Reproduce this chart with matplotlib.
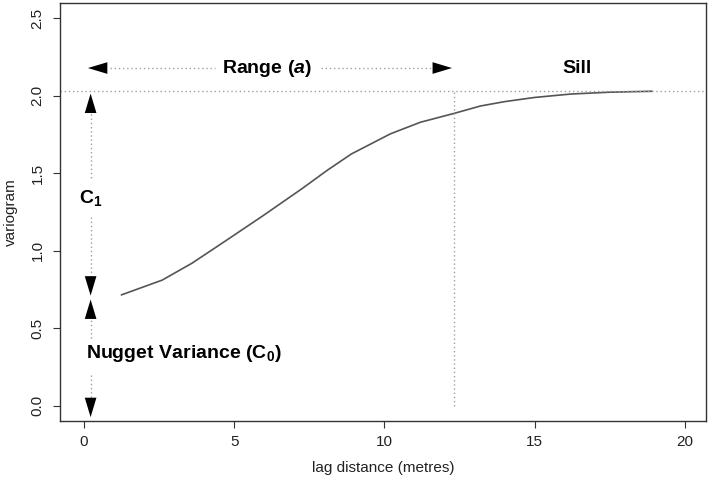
import matplotlib.pyplot as plt

plt.rcParams['font.family'] = ['Liberation Sans', 'DejaVu Sans']
plt.rcParams['mathtext.fontset'] = 'custom'
plt.rcParams['mathtext.rm'] = 'Liberation Sans:bold'
plt.rcParams['mathtext.it'] = 'Liberation Sans:italic:bold'
plt.rcParams['mathtext.default'] = 'rm'

# variogram curve
lag = [1.25, 2.6, 3.6, 4.8, 5.95, 7.25, 8.1, 8.9, 10.2, 11.2, 12.3, 13.2, 14.0, 15.0, 16.2, 17.5, 18.9]
gamma = [0.715, 0.81, 0.92, 1.075, 1.225, 1.40, 1.52, 1.625, 1.755, 1.83, 1.886, 1.935, 1.963, 1.99, 2.012, 2.024, 2.03]

sill = 2.03
range_a = 12.3
arrow_x = 0.22
range_y = 2.18

xticks = [0, 5, 10, 15, 20]
yticks = [0.0, 0.5, 1.0, 1.5, 2.0, 2.5]


def head(ax, tip, frm):
    # black filled arrow head only, the stem is drawn separately as a dotted line
    ax.annotate('', xy=tip, xytext=frm,
                arrowprops=dict(arrowstyle='-|>,head_length=1.4,head_width=0.42',
                                mutation_scale=10, lw=0, fc='black', ec='none',
                                shrinkA=0, shrinkB=0))


def dotted(ax, xs, ys):
    ax.plot(xs, ys, linestyle=(0, (1, 2)), color='#a0a0a0', lw=1)


fig = plt.figure(figsize=(7.08, 4.86), dpi=100)
ax = fig.add_axes([0.0847, 0.1337, 0.9123, 0.8601])

ax.plot(lag, gamma, color='#555555', lw=1.2)

# sill line and range line
ax.axhline(sill, linestyle=(0, (1, 2)), color='#a0a0a0', lw=1)
dotted(ax, [range_a, range_a], [0, sill])

# range arrow
dotted(ax, [0.85, 4.35], [range_y, range_y])
dotted(ax, [7.9, 11.6], [range_y, range_y])
head(ax, (0.13, range_y), (1.0, range_y))
head(ax, (12.25, range_y), (11.3, range_y))
ax.text(6.1, range_y, 'Range ($\\mathit{a}$)', ha='center', va='center',
        fontsize=14, fontweight='bold')

ax.text(16.4, range_y, 'Sill', ha='center', va='center', fontsize=14, fontweight='bold')

# C1 arrow
dotted(ax, [arrow_x, arrow_x], [1.88, 1.46])
dotted(ax, [arrow_x, arrow_x], [1.22, 0.83])
head(ax, (arrow_x, 2.015), (arrow_x, 1.7))
head(ax, (arrow_x, 0.71), (arrow_x, 1.0))
ax.text(arrow_x, 1.34, 'C$_1$', ha='center', va='center', fontsize=14, fontweight='bold')

# nugget arrow
dotted(ax, [arrow_x, arrow_x], [0.58, 0.43])
dotted(ax, [arrow_x, arrow_x], [0.2, 0.04])
head(ax, (arrow_x, 0.685), (arrow_x, 0.4))
head(ax, (arrow_x, -0.075), (arrow_x, 0.2))
ax.text(0.07, 0.335, 'Nugget Variance (C$_0$)', ha='left', va='center',
        fontsize=14, fontweight='bold')

ax.set_xlim(-0.8, 20.7)
ax.set_ylim(-0.1, 2.6)
ax.set_xticks(xticks)
ax.set_yticks(yticks)
ax.set_yticklabels(['%.1f' % v for v in yticks], rotation=90, va='center')
ax.tick_params(axis='both', direction='out', length=5, width=0.8, labelsize=11,
               color='#333333', labelcolor='#222222')
ax.tick_params(axis='x', pad=5)
ax.tick_params(axis='y', pad=6)
for s in ax.spines.values():
    s.set_linewidth(1.0)
    s.set_color('#333333')

ax.set_xlabel('lag distance (metres)', fontsize=11, color='#222222', labelpad=9)
ax.set_ylabel('variogram', fontsize=11, color='#222222', labelpad=9)

fig.savefig('out.png', dpi=100)
